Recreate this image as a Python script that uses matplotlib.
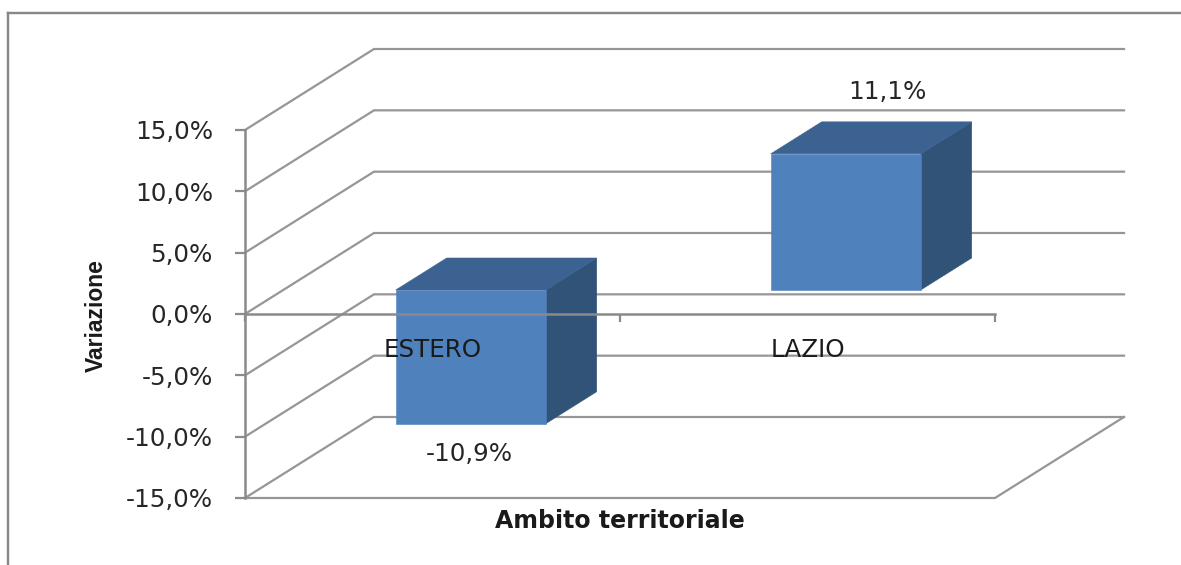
import matplotlib
matplotlib.use("Agg")
import matplotlib.pyplot as plt
from matplotlib.lines import Line2D
from matplotlib.patches import Polygon
from matplotlib.ticker import FuncFormatter

# Data
categories = ["ESTERO", "LAZIO"]
values = [-10.9, 11.1]
value_labels = ["-10,9%", "11,1%"]
y_ticks = [-15, -10, -5, 0, 5, 10, 15]

# Style / layout
W, H = 1181, 565
GRID = "#969696"
AXIS = "#8A8A8A"
FRONT, TOP, SIDE = "#4F81BD", "#3C6291", "#325378"
TEXT = "#262626"
FS = 17.7
px = 72 / 100
DEPTH_X = 129 / 375      # full chart depth, x units
DEPTH_Y = 81 / (368 / 30)  # full chart depth, y units
BAR_W = 0.4
BAR_SHIFT = 0.0
BAR_D0, BAR_D1 = 24 / 81, 56 / 81  # bar depth range as fraction of chart depth
label_offsets = [(37, -6), (80, 86)]  # pixels from the bar's value point

fig = plt.figure(figsize=(W / 100, H / 100), dpi=100, facecolor="white")
ax = fig.add_axes([245 / W, 1 - 498 / H, 750 / W, 368 / H])
ax.set_xlim(0, 2)
ax.set_ylim(-15, 15)
ax.patch.set_visible(False)


def proj(x, y, d):
    return x + d * DEPTH_X, y + d * DEPTH_Y


# Outer frame
for xs, ys in [((8, 8), (H, 13)), ((8, W), (13, 13))]:
    fig.add_artist(Line2D([v / W for v in xs], [1 - v / H for v in ys],
                          color="#878787", lw=2.4 * px, transform=fig.transFigure))

# Back wall, side wall and floor
for v in y_ticks:
    x0, y0 = proj(0, v, 0)
    x1, y1 = proj(0, v, 1)
    x2, y2 = proj(2, v, 1)
    ax.plot([x0, x1, x2], [y0, y1, y2], color=GRID, lw=1.6, clip_on=False,
            zorder=1, solid_joinstyle="miter")
fx, fy = proj(2, y_ticks[0], 1)
ax.plot([0, 2, fx], [y_ticks[0], y_ticks[0], fy], color=GRID, lw=1.6,
        clip_on=False, zorder=1)

# 3D bars
for i, v in enumerate(values):
    c = i + 0.5
    l, r = c - BAR_W / 2 + BAR_SHIFT, c + BAR_W / 2 + BAR_SHIFT
    lo, hi = min(0, v), max(0, v)
    f = [proj(l, lo, BAR_D0), proj(r, lo, BAR_D0), proj(r, hi, BAR_D0), proj(l, hi, BAR_D0)]
    s = [proj(r, lo, BAR_D0), proj(r, lo, BAR_D1), proj(r, hi, BAR_D1), proj(r, hi, BAR_D0)]
    t = [proj(l, hi, BAR_D0), proj(r, hi, BAR_D0), proj(r, hi, BAR_D1), proj(l, hi, BAR_D1)]
    for pts, col in ((s, SIDE), (t, TOP), (f, FRONT)):
        ax.add_patch(Polygon(pts, closed=True, facecolor=col, edgecolor=col,
                             lw=0.4, clip_on=False, zorder=3))
    ax.annotate(value_labels[i], xy=(c, v), xytext=label_offsets[i],
                textcoords="offset pixels", ha="center", va="center",
                fontsize=FS, color=TEXT, zorder=6, annotation_clip=False)

# Axes
for name in ("top", "right"):
    ax.spines[name].set_visible(False)
ax.spines["bottom"].set_position(("data", 0))
for name in ("left", "bottom"):
    ax.spines[name].set_color(AXIS)
    ax.spines[name].set_linewidth(1.8)
    ax.spines[name].set_zorder(4)
ax.xaxis.set_zorder(5)
ax.yaxis.set_zorder(5)

ax.set_yticks(y_ticks)
ax.yaxis.set_major_formatter(FuncFormatter(lambda v, _: f"{v:.1f}%".replace(".", ",")))
ax.tick_params(axis="y", direction="out", length=10 * px, width=1.6, color=AXIS,
               labelsize=FS, labelcolor=TEXT, pad=22 * px)
ax.set_xticks([0, 1, 2])
ax.set_xticklabels([])
ax.tick_params(axis="x", which="major", direction="out", length=8 * px, width=1.6, color=AXIS)
ax.set_xticks([i + 0.5 for i in range(len(categories))], minor=True)
ax.set_xticklabels(categories, minor=True)
ax.tick_params(axis="x", which="minor", length=0, labelsize=FS, labelcolor="#1A1A1A", pad=24 * px)

fig.text(620 / W, 1 - 521 / H, "Ambito territoriale", ha="center", va="center",
         fontsize=17, fontweight="bold", color="#1A1A1A")
fig.text(96 / W, 1 - 316 / H, "Variazione", ha="center", va="center", rotation=90,
         fontsize=16.5, fontweight="bold", color="#1A1A1A", family="Liberation Sans")

fig.savefig("out.png", dpi=100)
